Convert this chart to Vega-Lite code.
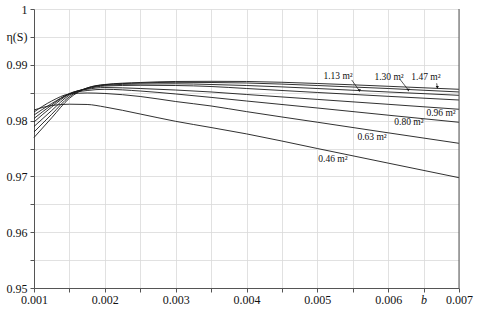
{
  "$schema": "https://vega.github.io/schema/vega-lite/v6.json",
  "width": 425,
  "height": 279,
  "autosize": "none",
  "padding": {"left": 34, "top": 9, "right": 21, "bottom": 25},
  "config": {
    "view": {"stroke": null},
    "font": "Liberation Serif",
    "axis": {"labelFont": "Liberation Serif", "labelFontSize": 12, "gridColor": "#d9d9d9", "gridWidth": 0.8}
  },
  "datasets": {
    "curves": [
      {"s": "1.47", "b": 0.001, "e": 0.97697}, {"s": "1.47", "b": 0.00125, "e": 0.98050}, {"s": "1.47", "b": 0.0015, "e": 0.98400}, {"s": "1.47", "b": 0.00175, "e": 0.98584}, {"s": "1.47", "b": 0.002, "e": 0.98647}, {"s": "1.47", "b": 0.0025, "e": 0.98683}, {"s": "1.47", "b": 0.003, "e": 0.98701}, {"s": "1.47", "b": 0.0035, "e": 0.98704}, {"s": "1.47", "b": 0.004, "e": 0.98701}, {"s": "1.47", "b": 0.005, "e": 0.98665}, {"s": "1.47", "b": 0.006, "e": 0.98615}, {"s": "1.47", "b": 0.007, "e": 0.98561},
      {"s": "1.30", "b": 0.001, "e": 0.97796}, {"s": "1.30", "b": 0.00125, "e": 0.98113}, {"s": "1.30", "b": 0.0015, "e": 0.98430}, {"s": "1.30", "b": 0.00175, "e": 0.98584}, {"s": "1.30", "b": 0.002, "e": 0.98643}, {"s": "1.30", "b": 0.0025, "e": 0.98674}, {"s": "1.30", "b": 0.003, "e": 0.98686}, {"s": "1.30", "b": 0.0035, "e": 0.98683}, {"s": "1.30", "b": 0.004, "e": 0.98674}, {"s": "1.30", "b": 0.005, "e": 0.98629}, {"s": "1.30", "b": 0.006, "e": 0.98575}, {"s": "1.30", "b": 0.007, "e": 0.98513},
      {"s": "1.13", "b": 0.001, "e": 0.97894}, {"s": "1.13", "b": 0.00125, "e": 0.98181}, {"s": "1.13", "b": 0.0015, "e": 0.98459}, {"s": "1.13", "b": 0.00175, "e": 0.98579}, {"s": "1.13", "b": 0.002, "e": 0.98633}, {"s": "1.13", "b": 0.0025, "e": 0.98656}, {"s": "1.13", "b": 0.003, "e": 0.98660}, {"s": "1.13", "b": 0.0035, "e": 0.98647}, {"s": "1.13", "b": 0.004, "e": 0.98629}, {"s": "1.13", "b": 0.005, "e": 0.98575}, {"s": "1.13", "b": 0.006, "e": 0.98513}, {"s": "1.13", "b": 0.007, "e": 0.98453},
      {"s": "x", "b": 0.001, "e": 0.97975}, {"s": "x", "b": 0.00125, "e": 0.98244}, {"s": "x", "b": 0.0015, "e": 0.98477}, {"s": "x", "b": 0.00175, "e": 0.98572}, {"s": "x", "b": 0.002, "e": 0.98620}, {"s": "x", "b": 0.0025, "e": 0.98633}, {"s": "x", "b": 0.003, "e": 0.98629}, {"s": "x", "b": 0.0035, "e": 0.98611}, {"s": "x", "b": 0.004, "e": 0.98575}, {"s": "x", "b": 0.005, "e": 0.98504}, {"s": "x", "b": 0.006, "e": 0.98435}, {"s": "x", "b": 0.007, "e": 0.98369},
      {"s": "0.96", "b": 0.001, "e": 0.98038}, {"s": "0.96", "b": 0.00125, "e": 0.98280}, {"s": "0.96", "b": 0.0015, "e": 0.98486}, {"s": "0.96", "b": 0.00175, "e": 0.98561}, {"s": "0.96", "b": 0.002, "e": 0.98593}, {"s": "0.96", "b": 0.0025, "e": 0.98575}, {"s": "0.96", "b": 0.003, "e": 0.98548}, {"s": "0.96", "b": 0.0035, "e": 0.98513}, {"s": "0.96", "b": 0.004, "e": 0.98468}, {"s": "0.96", "b": 0.005, "e": 0.98380}, {"s": "0.96", "b": 0.006, "e": 0.98292}, {"s": "0.96", "b": 0.007, "e": 0.98203},
      {"s": "0.80", "b": 0.001, "e": 0.98100}, {"s": "0.80", "b": 0.00125, "e": 0.98306}, {"s": "0.80", "b": 0.0015, "e": 0.98477}, {"s": "0.80", "b": 0.00175, "e": 0.98539}, {"s": "0.80", "b": 0.002, "e": 0.98561}, {"s": "0.80", "b": 0.0025, "e": 0.98530}, {"s": "0.80", "b": 0.003, "e": 0.98477}, {"s": "0.80", "b": 0.0035, "e": 0.98416}, {"s": "0.80", "b": 0.004, "e": 0.98351}, {"s": "0.80", "b": 0.005, "e": 0.98226}, {"s": "0.80", "b": 0.006, "e": 0.98097}, {"s": "0.80", "b": 0.007, "e": 0.97970},
      {"s": "0.63", "b": 0.001, "e": 0.98154}, {"s": "0.63", "b": 0.00125, "e": 0.98351}, {"s": "0.63", "b": 0.0015, "e": 0.98477}, {"s": "0.63", "b": 0.00175, "e": 0.98495}, {"s": "0.63", "b": 0.002, "e": 0.98486}, {"s": "0.63", "b": 0.0025, "e": 0.98432}, {"s": "0.63", "b": 0.003, "e": 0.98342}, {"s": "0.63", "b": 0.0035, "e": 0.98262}, {"s": "0.63", "b": 0.004, "e": 0.98161}, {"s": "0.63", "b": 0.005, "e": 0.97971}, {"s": "0.63", "b": 0.006, "e": 0.97781}, {"s": "0.63", "b": 0.007, "e": 0.97593},
      {"s": "0.46", "b": 0.001, "e": 0.98190}, {"s": "0.46", "b": 0.00125, "e": 0.98271}, {"s": "0.46", "b": 0.0015, "e": 0.98294}, {"s": "0.46", "b": 0.00175, "e": 0.98289}, {"s": "0.46", "b": 0.002, "e": 0.98244}, {"s": "0.46", "b": 0.0025, "e": 0.98118}, {"s": "0.46", "b": 0.003, "e": 0.97987}, {"s": "0.46", "b": 0.0035, "e": 0.97876}, {"s": "0.46", "b": 0.004, "e": 0.97762}, {"s": "0.46", "b": 0.005, "e": 0.97500}, {"s": "0.46", "b": 0.006, "e": 0.97238}, {"s": "0.46", "b": 0.007, "e": 0.96977}
    ],
    "labels": [
      {"t": "1.13 m²", "b": 0.005292, "e": 0.98799},
      {"t": "1.30 m²", "b": 0.006012, "e": 0.98787},
      {"t": "1.47 m²", "b": 0.006534, "e": 0.98776},
      {"t": "0.96 m²", "b": 0.006746, "e": 0.98142},
      {"t": "0.80 m²", "b": 0.006294, "e": 0.97980},
      {"t": "0.63 m²", "b": 0.005772, "e": 0.97711},
      {"t": "0.46 m²", "b": 0.005221, "e": 0.97306}
    ],
    "leaders": [
      {"b": 0.005485, "e": 0.98728, "b2": 0.005593, "e2": 0.98536},
      {"b": 0.006167, "e": 0.98740, "b2": 0.006284, "e2": 0.98548},
      {"b": 0.006685, "e": 0.98668, "b2": 0.006694, "e2": 0.98597}
    ],
    "tips": [
      {"b": 0.005593, "e": 0.98536},
      {"b": 0.006284, "e": 0.98548},
      {"b": 0.006694, "e": 0.98597}
    ],
    "border": [
      {"b": 0.007, "e": 0.95},
      {"b": 0.007, "e": 1}
    ]
  },
  "encoding": {
    "x": {
      "field": "b", "type": "quantitative", "title": null,
      "scale": {"domain": [0.001, 0.007], "nice": false, "zero": false},
      "axis": {
        "values": [0.001, 0.0015, 0.002, 0.0025, 0.003, 0.0035, 0.004, 0.0045, 0.005, 0.0055, 0.006, 0.0065, 0.007],
        "labelExpr": "abs(datum.value-0.0065)<1e-9 ? 'b' : (abs(datum.value*1000-round(datum.value*1000))<1e-6 ? format(datum.value, '.3f') : '')",
        "labelFontStyle": {"condition": {"test": "abs(datum.value-0.0065)<1e-9", "value": "italic"}, "value": "normal"},
        "labelFlush": false,
        "labelFont": "Liberation Serif", "labelFontSize": 12, "labelColor": "#111",
        "labelPadding": 2, "tickSize": 4, "tickColor": "#555", "domainColor": "#555",
        "grid": true, "labelOverlap": false
      }
    },
    "y": {
      "field": "e", "type": "quantitative", "title": null,
      "scale": {"domain": [0.95, 1], "nice": false, "zero": false},
      "axis": {
        "values": [0.95, 0.955, 0.96, 0.965, 0.97, 0.975, 0.98, 0.985, 0.99, 0.995, 1],
        "labelExpr": "abs(datum.value-0.995)<1e-9 ? 'η(S)' : (abs(datum.value*100-round(datum.value*100))<1e-6 ? format(datum.value, '.2~f') : '')",
        "labelFont": "Liberation Serif", "labelFontSize": 12, "labelColor": "#111",
        "labelPadding": 3, "tickSize": 4, "tickColor": "#555", "domainColor": "#555",
        "grid": true, "labelOverlap": false
      }
    }
  },
  "layer": [
    {
      "data": {"name": "curves"},
      "mark": {"type": "line", "interpolate": "monotone", "color": "#1a1a1a", "strokeWidth": 0.9},
      "encoding": {"detail": {"field": "s"}}
    },
    {
      "data": {"name": "labels"},
      "mark": {"type": "text", "font": "Liberation Serif", "fontSize": 9.5, "color": "#111"},
      "encoding": {"text": {"field": "t"}}
    },
    {
      "data": {"name": "leaders"},
      "mark": {"type": "rule", "color": "#111", "strokeWidth": 0.7},
      "encoding": {"x2": {"field": "b2"}, "y2": {"field": "e2"}}
    },
    {
      "data": {"name": "tips"},
      "mark": {"type": "point", "shape": "triangle-down", "filled": true, "size": 10, "color": "#111", "opacity": 1},
      "encoding": {}
    },
    {
      "data": {"name": "border"},
      "mark": {"type": "line", "color": "#555", "strokeWidth": 1},
      "encoding": {}
    }
  ]
}
